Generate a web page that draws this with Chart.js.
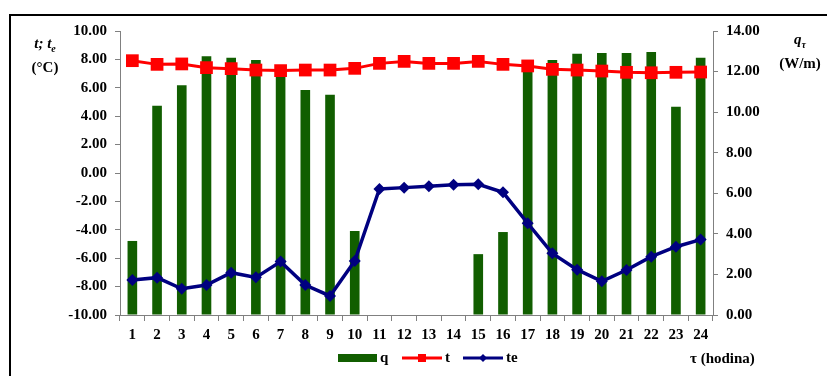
<!DOCTYPE html>
<html>
<head>
<meta charset="utf-8">
<script src="https://cdn.jsdelivr.net/npm/chart.js@4/dist/chart.umd.min.js"></script>
<style>
  html, body { margin: 0; padding: 0; background: #fff; overflow: hidden; }
  #wrap { position: relative; width: 827px; height: 376px; }
  #frame { position: absolute; left: 9px; top: 14px; width: 900px; height: 500px; border: 2px solid #000; box-sizing: border-box; }
  canvas { position: absolute; left: 0; top: 0; }
  .ttl { position: absolute; font-family: "Liberation Serif", "Times New Roman", serif; font-weight: bold; font-size: 15px; color: #000; text-align: center; line-height: 18px; }
  .ttl i sub { font-size: 10px; }
</style>
</head>
<body>
<div id="wrap">
  <div id="frame"></div>
  <canvas id="c" width="827" height="376"></canvas>
  <div class="ttl" style="left:20px; top:34px; width:50px;"><i>t; t<sub>e</sub></i><br>(°C)</div>
  <div class="ttl" style="left:772px; top:30px; width:56px;"><i>q<sub>τ</sub></i><br>(W/m)</div>
</div>
<script>
// Hour of the day
const hours = ['1','2','3','4','5','6','7','8','9','10','11','12','13','14','15','16','17','18','19','20','21','22','23','24'];
// Heat flux q (W/m), right axis; no flux during hours 11–14
const qValues = [3.65, 10.32, 11.32, 12.75, 12.68, 12.57, 12.3, 11.09, 10.86, 4.14, null, null, null, null, 3.0, 4.09, 12.3, 12.57, 12.88, 12.91, 12.91, 12.96, 10.27, 12.68];
// Indoor temperature t (°C), left axis
const tValues = [7.91, 7.65, 7.68, 7.42, 7.35, 7.25, 7.21, 7.25, 7.25, 7.37, 7.72, 7.86, 7.72, 7.72, 7.86, 7.65, 7.54, 7.30, 7.25, 7.18, 7.09, 7.06, 7.09, 7.11];
// Outdoor temperature te (°C), left axis
const teValues = [-7.54, -7.37, -8.15, -7.89, -7.02, -7.35, -6.24, -7.89, -8.66, -6.2, -1.13, -1.03, -0.94, -0.82, -0.80, -1.36, -3.54, -5.66, -6.81, -7.63, -6.83, -5.89, -5.19, -4.69];

const GREEN = '#115e00';
const RED = '#ff0000';
const NAVY = '#000080';
const AXIS = '#808080';
const FONT = { family: '"Liberation Serif", "Times New Roman", serif', weight: 'bold', size: 15 };

// Bottom legend and x-axis caption
const legendPlugin = {
  id: 'bottomLegend',
  afterDraw(chart) {
    const ctx = chart.ctx;
    const y = 358;
    ctx.save();
    ctx.font = 'bold 15px "Liberation Serif", "Times New Roman", serif';
    ctx.fillStyle = '#000';
    ctx.textBaseline = 'middle';
    // q
    ctx.fillStyle = GREEN;
    ctx.fillRect(338, y - 4, 39, 8);
    ctx.fillStyle = '#000';
    ctx.fillText(chart.data.datasets[0].label, 380, y);
    // t
    ctx.strokeStyle = RED; ctx.lineWidth = 3;
    ctx.beginPath(); ctx.moveTo(402, y); ctx.lineTo(442, y); ctx.stroke();
    ctx.fillStyle = RED; ctx.fillRect(418, y - 4, 8, 8);
    ctx.fillStyle = '#000';
    ctx.fillText(chart.data.datasets[1].label, 445, y);
    // te
    ctx.strokeStyle = NAVY; ctx.lineWidth = 3;
    ctx.beginPath(); ctx.moveTo(463, y); ctx.lineTo(503, y); ctx.stroke();
    ctx.fillStyle = NAVY;
    ctx.beginPath(); ctx.moveTo(483, y - 4); ctx.lineTo(487, y); ctx.lineTo(483, y + 4); ctx.lineTo(479, y); ctx.closePath(); ctx.fill();
    ctx.fillStyle = '#000';
    ctx.fillText(chart.data.datasets[2].label, 506, y);
    // axis caption
    ctx.fillText('τ (hodina)', 690, y + 1);
    ctx.restore();
  }
};

new Chart(document.getElementById('c'), {
  data: {
    labels: hours,
    datasets: [
      { type: 'bar', label: 'q', data: qValues, yAxisID: 'yq', backgroundColor: GREEN, barPercentage: 0.39, categoryPercentage: 1, order: 3 },
      { type: 'line', label: 't', data: tValues, yAxisID: 'yt', borderColor: RED, backgroundColor: RED, borderWidth: 3, pointStyle: 'rect', pointRadius: 9, pointBackgroundColor: RED, pointBorderColor: RED, pointBorderWidth: 0, order: 2 },
      { type: 'line', label: 'te', data: teValues, yAxisID: 'yt', borderColor: NAVY, backgroundColor: NAVY, borderWidth: 3.5, pointStyle: 'rectRot', pointRadius: 6, pointBackgroundColor: NAVY, pointBorderColor: NAVY, pointBorderWidth: 0, order: 1 }
    ]
  },
  options: {
    responsive: false,
    animation: false,
    devicePixelRatio: 1,
    layout: { padding: { top: 31, left: 0, right: 0, bottom: 0 } },
    plugins: { legend: { display: false }, tooltip: { enabled: false } },
    scales: {
      x: {
        offset: true,
        grid: { offset: true, drawOnChartArea: false, drawTicks: true, tickLength: 6, color: AXIS },
        border: { color: AXIS, width: 1 },
        ticks: { color: '#000', font: FONT, padding: 5, maxRotation: 0, autoSkip: false },
        afterFit(s) { s.height = 61; }
      },
      yt: {
        position: 'left',
        min: -10, max: 10,
        grid: { drawOnChartArea: false, tickLength: 5, color: AXIS },
        border: { color: AXIS, width: 1 },
        ticks: { stepSize: 2, color: '#000', font: FONT, padding: 8, callback: v => v.toFixed(2) },
        afterFit(s) { s.width = 120; }
      },
      yq: {
        position: 'right',
        min: 0, max: 14,
        grid: { drawOnChartArea: false, tickLength: 5, color: AXIS },
        border: { color: AXIS, width: 1 },
        ticks: { stepSize: 2, color: '#000', font: FONT, padding: 8, callback: v => v.toFixed(2) },
        afterFit(s) { s.width = 114; }
      }
    }
  },
  plugins: [legendPlugin]
});
</script>
</body>
</html>
